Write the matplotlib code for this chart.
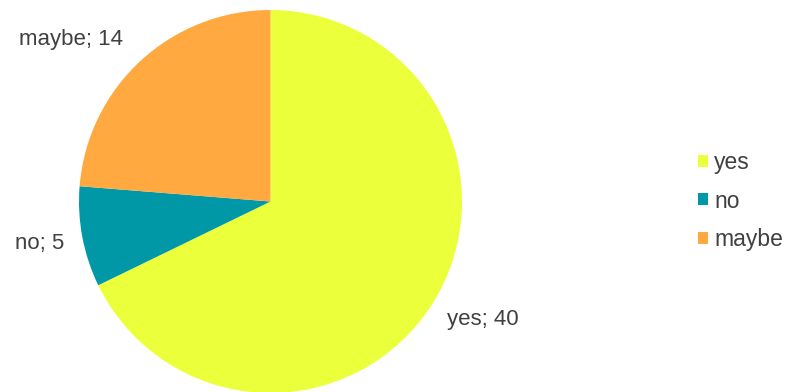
import matplotlib.pyplot as plt
from matplotlib.patches import Patch
import numpy as np

# data
categories = ["yes", "no", "maybe"]
values = [40, 5, 14]
colors = ["#EBFF3A", "#0097A7", "#FFA940"]

plt.rcParams["font.family"] = ["Liberation Sans", "DejaVu Sans"]

W, H = 787, 392
fig = plt.figure(figsize=(W / 100, H / 100), dpi=100)

# pie placed in pixel space: center (270.5, 201.5), radius 191.5
cx, cy, r = 270.5, 201.5, 191.5
ax = fig.add_axes([(cx - r) / W, (H - cy - r) / H, 2 * r / W, 2 * r / H])
ax.pie(values, colors=colors, startangle=90, counterclock=False,
       radius=1, wedgeprops=dict(linewidth=0))
ax.set_xlim(-1, 1)
ax.set_ylim(-1, 1)
ax.set_aspect("equal")
ax.axis("off")

# data labels, positions in pixels
label_pos = [(483, 320), (40, 244), (71, 40)]
for cat, val, (px, py) in zip(categories, values, label_pos):
    fig.text(px / W, 1 - py / H, f"{cat}; {val}", ha="center", va="center",
             fontsize=16, color="#404040")

handles = [Patch(facecolor=c, edgecolor="none") for c in colors]
fig.legend(handles, categories, loc="center left",
           bbox_to_anchor=(677 / W, 1 - 201 / H), frameon=False,
           fontsize=16.5, handlelength=0.45, handleheight=0.45,
           handletextpad=0.28, labelspacing=0.68, labelcolor="#404040")

fig.savefig("out.png", dpi=100)
